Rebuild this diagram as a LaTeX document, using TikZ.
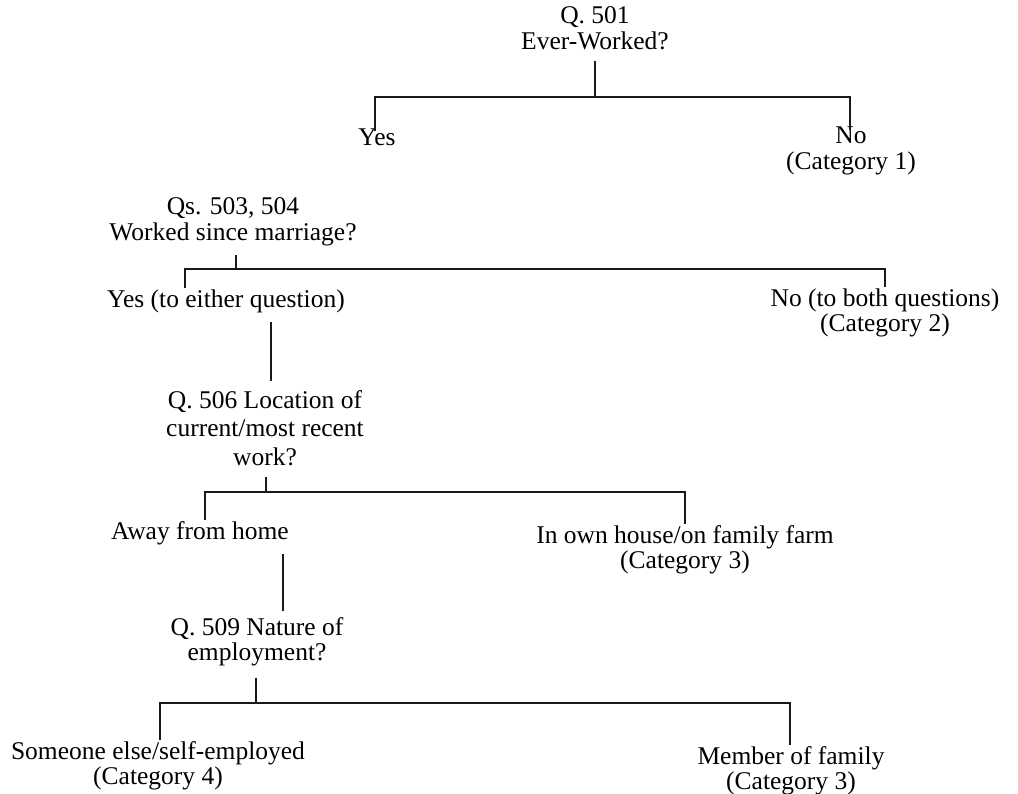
\documentclass[tikz,border=0pt]{standalone}
\usepackage{fontspec}
\setmainfont{Liberation Serif}
\begin{document}
\begin{tikzpicture}[x=1pt,y=-1pt,
  lbl/.style={align=center,inner sep=3pt,font=\fontsize{25.5}{25.5}\selectfont},
  lblw/.style={lbl,font=\fontsize{25.5}{28.5}\selectfont},
  conn/.style={line width=1.1pt,draw=black!90}]
\useasboundingbox (0,0) rectangle (1018,794);
% nodes
\node[lbl] (q501) at (595,28) {Q. 501\\Ever-Worked?};
\node[lbl] (yes1) at (377,137) {Yes};
\node[lbl] (no1) at (851,151) {No\\(Category 1)};
\node[lbl] (q503) at (233,222) {Qs. 503, 504\\Worked since marriage?};
\node[lbl] (yes2) at (226,301) {Yes (to either question)};
\node[lbl] (no2) at (885,313) {No (to both questions)\\(Category 2)};
\node[lblw] (q506) at (265,428) {Q. 506 Location of\\current/most recent\\work?};
\node[lbl] (away) at (200,533) {Away from home};
\node[lbl] (own) at (685,550) {In own house/on family farm\\(Category 3)};
\node[lbl] (q509) at (257,642) {Q. 509 Nature of\\employment?};
\node[lbl] (else) at (158,766) {Someone else/self-employed\\(Category 4)};
\node[lbl] (fam) at (791,771) {Member of family\\(Category 3)};
% bracket corners
\coordinate (b1L) at (375,97);  \coordinate (b1R) at (850,97);
\coordinate (b2L) at (185,269); \coordinate (b2R) at (885,269);
\coordinate (b3L) at (205,492); \coordinate (b3R) at (685,492);
\coordinate (b4L) at (160,703); \coordinate (b4R) at (790,703);
% connectors
\draw[conn] ([yshift=-8pt]q501.south) -- (q501.south |- b1L);
\draw[conn] ([yshift=-6pt]yes1.north -| b1L) -- (b1L) -- (b1R) -- ([yshift=-6pt]b1R |- no1.north);
\draw[conn] ([yshift=-6pt]q503.south -| 236,0) -- (236,269);
\draw[conn] ([yshift=-2pt]yes2.north -| b2L) -- (b2L) -- (b2R) -- ([yshift=-2pt]b2R |- no2.north);
\draw[conn] ([yshift=-6pt]yes2.south -| 271,0) -- ([yshift=6pt]q506.north -| 271,0);
\draw[conn] ([yshift=-8pt]q506.south -| 266,0) -- (266,492);
\draw[conn] ([yshift=-2pt]away.north -| b3L) -- (b3L) -- (b3R) -- ([yshift=-2pt]b3R |- own.north);
\draw[conn] ([yshift=-6pt]away.south -| 283,0) -- ([yshift=3pt]q509.north -| 283,0);
\draw[conn] ([yshift=-8pt]q509.south -| 256,0) -- (256,703);
\draw[conn] ([yshift=-2pt]else.north -| b4L) -- (b4L) -- (b4R) -- ([yshift=-2pt]b4R |- fam.north);
\end{tikzpicture}
\end{document}
